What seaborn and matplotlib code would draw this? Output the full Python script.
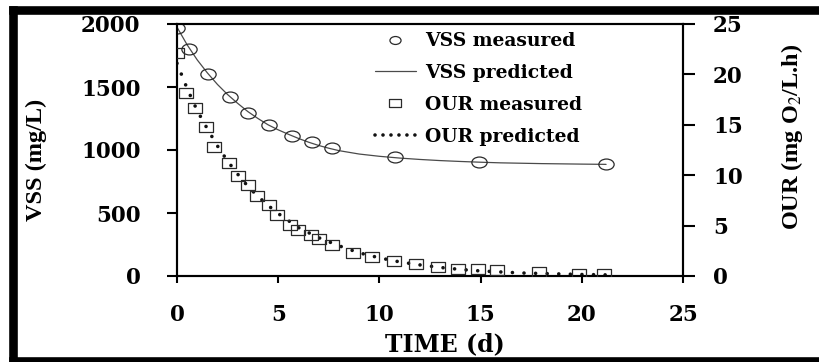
import numpy as np
import pandas as pd
import matplotlib
matplotlib.use("Agg")
import matplotlib.pyplot as plt
from matplotlib.path import Path
from matplotlib.transforms import Affine2D
from matplotlib.lines import Line2D
import seaborn as sns

# ---- data ----
vss_t = [0, 0.61, 1.55, 2.62, 3.53, 4.57, 5.68, 6.67, 7.66, 10.76, 14.92, 21.19]
vss_meas = [1965, 1803, 1602, 1423, 1296, 1198, 1114, 1066, 1013, 942, 902, 886]

vss_pred_t = [0, 0.5, 1, 1.5, 2, 2.5, 3, 3.5, 4, 4.5, 5, 5.5, 6, 6.5, 7, 7.5, 8,
              9, 10, 11, 12, 13, 14, 15, 16, 17, 18, 19, 20, 21.2]
vss_pred = [1975, 1835, 1715, 1612, 1520, 1440, 1370, 1305, 1250, 1200, 1160,
            1125, 1092, 1062, 1036, 1014, 995, 968, 950, 936, 925, 916, 909,
            903, 898, 895, 892, 890, 888, 886]

our_t = [0, 0.45, 0.9, 1.42, 1.85, 2.59, 2.99, 3.53, 3.95, 4.56, 4.95, 5.59,
         5.98, 6.62, 7.02, 7.66, 8.68, 9.62, 10.74, 11.82, 12.89, 13.9, 14.87,
         15.83, 17.89, 19.87, 21.1]
our_meas = [22.1, 18.2, 16.7, 14.8, 12.8, 11.2, 9.95, 9.0, 7.9, 7.0, 6.1, 5.06,
            4.56, 4.07, 3.64, 3.08, 2.3, 1.88, 1.49, 1.16, 0.86, 0.73, 0.66,
            0.6, 0.40, 0.23, 0.23]

our_pred_t = [0, 0.5, 1, 1.5, 2, 2.5, 3, 3.5, 4, 4.5, 5, 5.5, 6, 6.5, 7, 7.5, 8,
              9, 10, 11, 12, 13, 14, 15, 16, 17, 18, 19, 20, 21, 21.5]
our_pred = [21.1, 18.6, 16.4, 14.6, 12.9, 11.4, 10.1, 8.9, 7.9, 7.0, 6.2, 5.5,
            4.8, 4.3, 3.8, 3.4, 3.0, 2.3, 1.8, 1.4, 1.1, 0.85, 0.65, 0.5, 0.4,
            0.3, 0.25, 0.2, 0.15, 0.12, 0.1]

x_ticks = [0, 5, 10, 15, 20, 25]
vss_ticks = [0, 500, 1000, 1500, 2000]
our_ticks = [0, 5, 10, 15, 20, 25]

legend_labels = ["VSS measured", "VSS predicted", "OUR measured", "OUR predicted"]

# ---- style ----
sns.set_style("ticks")
plt.rcParams["font.family"] = ["DejaVu Serif"]
plt.rcParams["mathtext.fontset"] = "stix"
plt.rcParams["axes.linewidth"] = 1.5
for k in ("text.color", "axes.labelcolor", "xtick.color", "ytick.color",
          "axes.edgecolor"):
    plt.rcParams[k] = "black"

W, H = 819, 362
fig = plt.figure(figsize=(W / 100, H / 100), dpi=100)
fig.patch.set_facecolor("white")

ax = fig.add_axes([177 / W, 86 / H, 506 / W, 252 / H])
ax2 = ax.twinx()
ax2.set_position([177 / W, 86 / H, 506 / W, 252 / H])

# elliptical / rectangular markers (reference is horizontally stretched)
ell = Path.unit_circle().transformed(Affine2D().scale(1.4, 1.0))
rect = Path.unit_rectangle().transformed(Affine2D().translate(-0.5, -0.5).scale(1.35, 1.0))

edge = "#2a2a2a"

df_vp = pd.DataFrame({"t": vss_pred_t, "v": vss_pred})
df_vm = pd.DataFrame({"t": vss_t, "v": vss_meas})
df_op = pd.DataFrame({"t": our_pred_t, "v": our_pred})
df_om = pd.DataFrame({"t": our_t, "v": our_meas})

sns.lineplot(data=df_vp, x="t", y="v", ax=ax, color="#4a4a4a", linewidth=0.9,
             sort=False, zorder=2)
sns.lineplot(data=df_vm, x="t", y="v", ax=ax, linestyle="", marker=ell,
             markersize=11, markerfacecolor="none", markeredgecolor=edge,
             markeredgewidth=0.9, sort=False, zorder=3)

sns.lineplot(data=df_op, x="t", y="v", ax=ax2, color="#111111", linewidth=2.6,
             linestyle=(0, (0.01, 3.2)), dash_capstyle="round", sort=False,
             zorder=2)
sns.lineplot(data=df_om, x="t", y="v", ax=ax2, linestyle="", marker=rect,
             markersize=10.5, markerfacecolor="none", markeredgecolor=edge,
             markeredgewidth=0.9, sort=False, zorder=3)

ax.set_xlim(0, 25)
ax.set_ylim(0, 2000)
ax2.set_ylim(0, 25)
ax.set_xticks(x_ticks)
ax.set_yticks(vss_ticks)
ax2.set_yticks(our_ticks)

tick_font = dict(fontsize=15.5, fontweight="bold", family="DejaVu Serif",
                 color="black")
ax.set_xticklabels([str(v) for v in x_ticks], **tick_font)
ax.set_yticklabels([str(v) for v in vss_ticks], **tick_font)
ax2.set_yticklabels([str(v) for v in our_ticks], **tick_font)

for a in (ax, ax2):
    for s in a.spines.values():
        s.set_visible(True)
        s.set_color("black")
        s.set_linewidth(1.5)

ax.tick_params(axis="y", which="major", direction="out", length=7.2, width=1.5,
               pad=19, colors="black", left=True, right=False)
ax.tick_params(axis="x", which="major", direction="out", length=5, width=1.5,
               pad=15, colors="black", top=False)
ax2.tick_params(axis="y", which="major", direction="out", length=8.6, width=1.5,
                pad=13, colors="black", right=True, left=False)

ax.set_xlabel("TIME (d)", fontsize=17, fontweight="bold", family="DejaVu Serif",
              color="black")
ax.xaxis.set_label_coords(0.53, -0.225)

ax.set_ylabel("VSS (mg/L)", fontsize=17.5, fontweight="bold",
              family="Liberation Serif", color="black")
ax.yaxis.set_label_coords(-0.277, 0.46)
ax.yaxis.label.set_va("center")

ax2.set_ylabel("OUR (mg O$_2$/L.h)", fontsize=17.5, fontweight="bold",
               family="Liberation Serif", rotation=90, color="black")
ax2.yaxis.set_label_coords(1.215, 0.552)
ax2.yaxis.label.set_va("center")

handles = [
    Line2D([], [], linestyle="", marker=ell, markersize=8, markerfacecolor="none",
           markeredgecolor=edge, markeredgewidth=0.9),
    Line2D([], [], color="#4a4a4a", linewidth=0.9),
    Line2D([], [], linestyle="", marker=rect, markersize=8, markerfacecolor="none",
           markeredgecolor=edge, markeredgewidth=0.9),
    Line2D([], [], color="#111111", linewidth=2.6, linestyle=(0, (0.01, 2.2)),
           dash_capstyle="round"),
]
leg = ax2.legend(handles, legend_labels, loc="upper left",
                 bbox_to_anchor=(0.372, 1.005), frameon=False, borderpad=0,
                 handlelength=2.2, handletextpad=0.5, labelspacing=0.74,
                 prop=dict(family="DejaVu Serif", weight="bold", size=13.5))
for t in leg.get_texts():
    t.set_color("black")

# thick black frame on left, top and bottom (right side is cut off in the reference)
frame_kw = dict(transform=fig.transFigure, color="black", linewidth=6.2,
                solid_capstyle="projecting", clip_on=False)
fig.add_artist(Line2D([13 / W, 13 / W], [1 / H, 352.5 / H], **frame_kw))
fig.add_artist(Line2D([13 / W, 1.02], [352.5 / H, 352.5 / H], **frame_kw))
fig.add_artist(Line2D([13 / W, 1.02], [1 / H, 1 / H], **frame_kw))

fig.savefig("out.png", dpi=100)
